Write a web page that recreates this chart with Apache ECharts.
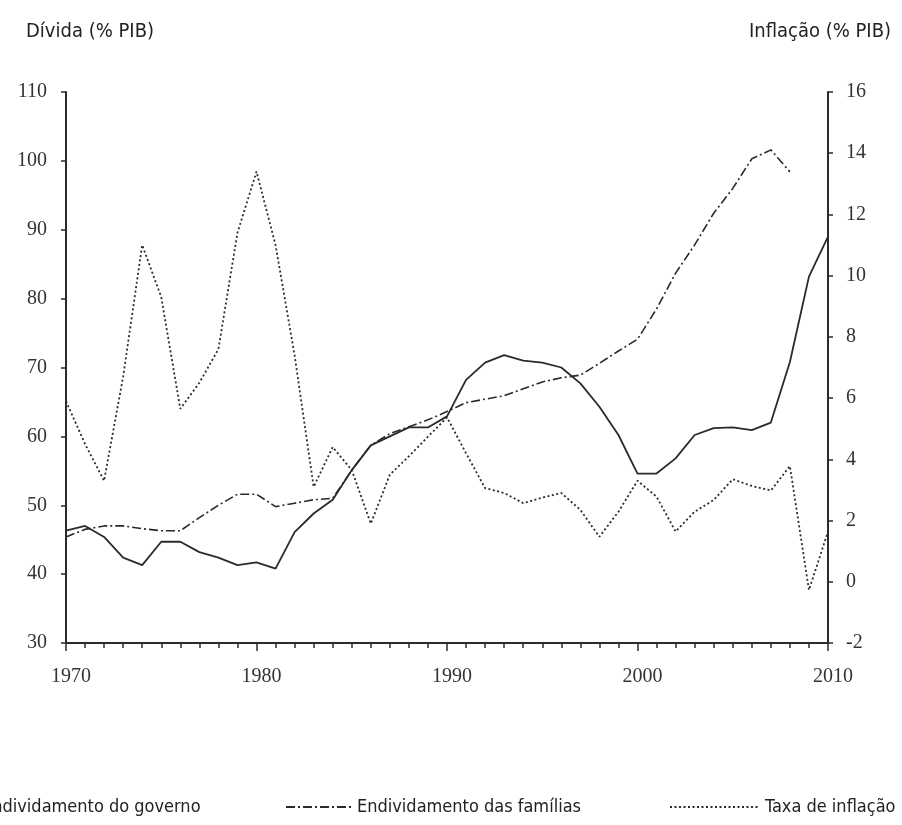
<!DOCTYPE html>
<html>
<head>
<meta charset="utf-8">
<script src="https://cdn.jsdelivr.net/npm/echarts@6/dist/echarts.min.js"></script>
<style>
  html, body { margin: 0; padding: 0; background: #fff; }
  #chart { width: 902px; height: 825px; }
</style>
</head>
<body>
<div id="chart"></div>
<script>
// Years 1970-2010
const years = [1970,1971,1972,1973,1974,1975,1976,1977,1978,1979,
  1980,1981,1982,1983,1984,1985,1986,1987,1988,1989,
  1990,1991,1992,1993,1994,1995,1996,1997,1998,1999,
  2000,2001,2002,2003,2004,2005,2006,2007,2008,2009,2010];

// Government debt (% of GDP), left axis
const govDebt = [46.3,47.0,45.4,42.4,41.3,44.7,44.7,43.2,42.4,41.3,
  41.7,40.8,46.1,48.8,50.8,55.1,58.7,60.0,61.3,61.3,
  62.9,68.2,70.7,71.8,71.0,70.7,70.0,67.7,64.3,60.2,
  54.6,54.6,56.8,60.2,61.2,61.3,60.9,62.0,70.8,83.2,89.0];

// Household debt (% of GDP), left axis
const houseDebt = [45.4,46.5,47.0,47.0,46.6,46.3,46.3,48.2,50.0,51.6,
  51.6,49.8,50.3,50.8,51.0,55.1,58.7,60.4,61.4,62.4,
  63.6,64.9,65.4,65.9,66.9,67.9,68.5,68.9,70.6,72.4,
  74.1,78.5,83.7,87.8,92.4,96.0,100.3,101.6,98.4,null,null];

// Inflation rate (%), right axis
const inflation = [5.9,4.5,3.3,6.7,11.0,9.3,5.65,6.5,7.6,11.4,
  13.4,11.0,7.4,3.1,4.4,3.65,1.9,3.5,4.1,4.74,
  5.37,4.2,3.06,2.9,2.57,2.75,2.9,2.35,1.47,2.29,
  3.3,2.78,1.64,2.29,2.67,3.35,3.13,2.98,3.78,-0.27,1.64];

const names = ['Endividamento do governo', 'Endividamento das famílias', 'Taxa de inflação'];

const pair = arr => years.map((y, i) => [y, arr[i]]);

const ink = '#2b2b2b';
const labelFont = '"Liberation Serif", "DejaVu Serif", serif';
const titleFont = '"Liberation Sans Narrow", "DejaVu Sans Condensed", "Roboto", sans-serif';

const chart = echarts.init(document.getElementById('chart'));

const legendText = { color: '#222', fontFamily: titleFont, fontSize: 18 };
// hide the point marker in legend icons, keep the line
const legendItem = { color: 'transparent', borderWidth: 0 };
const titleText = { fontFamily: titleFont, fontSize: 20, fontWeight: 'normal', color: '#222' };

const option = {
  backgroundColor: '#fff',
  animation: false,
  title: [
    { text: 'Dívida (% PIB)', left: 21, top: 17, textStyle: titleText },
    { text: 'Inflação (% PIB)', right: 6, top: 17, textStyle: titleText }
  ],
  legend: [
    { data: [names[0]], left: -91, top: 793, itemWidth: 62, itemHeight: 12, itemGap: 0,
      itemStyle: legendItem, textStyle: legendText },
    { data: [names[1]], left: 280, top: 793, itemWidth: 66, itemHeight: 12, itemGap: 0,
      itemStyle: legendItem, textStyle: legendText },
    { data: [names[2]], left: 664, top: 793, itemWidth: 90, itemHeight: 12, itemGap: 0,
      itemStyle: legendItem, textStyle: legendText }
  ],
  grid: { left: 66, right: 74, top: 92, bottom: 182 },
  xAxis: {
    type: 'value',
    min: 1970, max: 2010, interval: 10,
    axisLine: { onZero: false, lineStyle: { color: ink, width: 2 } },
    axisTick: { show: true, length: 8, lineStyle: { color: ink, width: 1.5 } },
    minorTick: { show: true, splitNumber: 10, length: 5, lineStyle: { color: ink, width: 1.5 } },
    splitLine: { show: false },
    axisLabel: { color: '#333', fontFamily: labelFont, fontSize: 20, margin: 24,
      padding: [0, 0, 0, 10], formatter: v => String(v) }
  },
  yAxis: [
    {
      type: 'value', min: 30, max: 110, interval: 10,
      axisLine: { show: true, onZero: false, lineStyle: { color: ink, width: 2 } },
      axisTick: { show: true, length: 5, lineStyle: { color: ink, width: 1.5 } },
      splitLine: { show: false },
      axisLabel: { color: '#333', fontFamily: labelFont, fontSize: 20, margin: 19 }
    },
    {
      type: 'value', min: -2, max: 16, interval: 2,
      axisLine: { show: true, onZero: false, lineStyle: { color: ink, width: 2 } },
      axisTick: { show: true, length: 5, lineStyle: { color: ink, width: 1.5 } },
      splitLine: { show: false },
      axisLabel: { color: '#333', fontFamily: labelFont, fontSize: 20, margin: 18 }
    }
  ],
  series: [
    {
      name: names[0], type: 'line', yAxisIndex: 0, data: pair(govDebt),
      symbol: 'none', itemStyle: { color: '#2a2a2a' },
      lineStyle: { color: '#2a2a2a', width: 1.8, type: 'solid' }
    },
    {
      name: names[1], type: 'line', yAxisIndex: 0, data: pair(houseDebt),
      symbol: 'none', itemStyle: { color: '#2a2a2a' },
      lineStyle: { color: '#2a2a2a', width: 1.6, type: [9, 3, 2, 3] }
    },
    {
      name: names[2], type: 'line', yAxisIndex: 1, data: pair(inflation),
      symbol: 'none', itemStyle: { color: '#2a2a2a' },
      lineStyle: { color: '#2a2a2a', width: 1.8, type: [2, 2.5] }
    }
  ]
};

chart.setOption(option);
</script>
</body>
</html>
